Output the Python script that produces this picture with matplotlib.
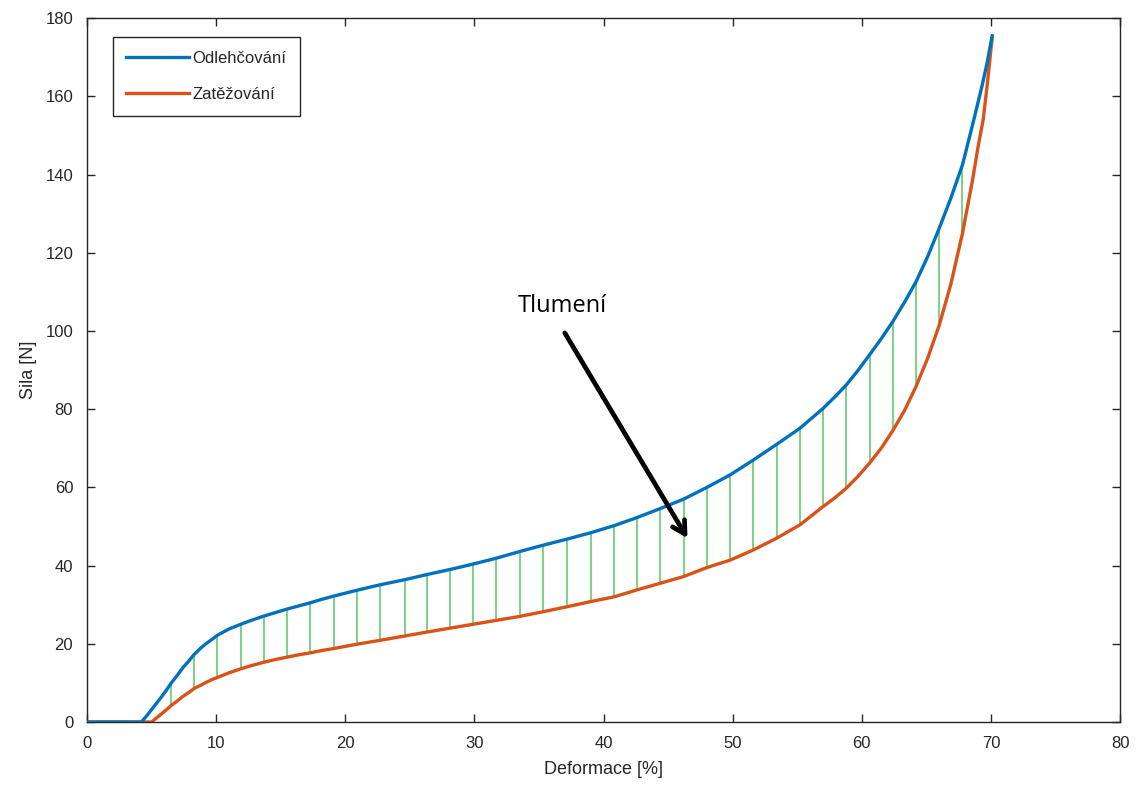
import matplotlib
matplotlib.use("Agg")
import matplotlib.pyplot as plt

# common x grid where the green "damping" lines are drawn
grid_x = [6.5, 8.3, 10.1, 11.9, 13.7, 15.5, 17.3, 19.1, 20.9, 22.7, 24.6, 26.3,
          28.1, 29.9, 31.7, 33.5, 35.3, 37.2, 39.0, 40.8, 42.6, 44.4, 46.2, 48.0,
          49.8, 51.6, 53.4, 55.2, 57.0, 58.8, 60.6, 62.4, 64.2, 66.0, 67.8]
grid_blue = [9.9, 17.3, 22.2, 25.0, 27.1, 28.9, 30.5, 32.2, 33.7, 35.1, 36.4, 37.7,
             39.0, 40.4, 41.9, 43.6, 45.2, 46.8, 48.4, 50.2, 52.3, 54.6, 57.0, 60.0,
             63.2, 67.0, 71.0, 75.1, 80.2, 86.2, 93.9, 102.4, 112.6, 126.3, 142.5]
grid_orange = [4.2, 8.6, 11.4, 13.6, 15.3, 16.6, 17.7, 18.8, 19.9, 20.9, 22.0, 23.0,
               24.0, 25.0, 26.0, 27.0, 28.2, 29.5, 30.8, 32.0, 33.8, 35.5, 37.2, 39.5,
               41.4, 44.0, 47.0, 50.4, 55.1, 59.8, 66.2, 74.5, 85.8, 101.5, 125.0]

# Odlehcovani (unloading) - extra points read between the grid
blue_extra_x = [0, 4.2, 4.6, 5.0, 5.4, 5.8, 6.2, 7.0, 7.4, 7.9, 8.8, 9.2, 9.7,
                11.0, 12.8, 14.6, 16.4, 18.2,
                57.9, 59.7, 61.5, 63.3, 65.1, 66.9, 68.6, 69.3, 69.7, 70.1]
blue_extra_y = [0, 0, 1.5, 3.2, 4.9, 6.6, 8.4, 12.0, 13.8, 15.7, 18.9, 20.0, 21.2,
                23.8, 26.1, 28.0, 29.7, 31.4,
                83.1, 89.9, 98.0, 107.3, 119.0, 134.0, 153.0, 162.5, 168.5, 175.5]

# Zatezovani (loading)
orange_extra_x = [0, 5.0, 5.4, 5.8, 6.2, 7.0, 7.4, 7.9, 8.8, 9.2, 9.7,
                  11.0, 12.8, 14.6, 16.4, 18.2,
                  57.9, 59.7, 61.5, 63.3, 65.1, 66.9, 68.6, 69.0, 69.4, 69.7, 70.1]
orange_extra_y = [0, 0, 1.1, 2.2, 3.3, 5.4, 6.5, 7.6, 9.4, 10.1, 10.9,
                  12.6, 14.5, 16.0, 17.2, 18.3,
                  57.3, 62.8, 70.0, 79.6, 93.0, 112.0, 139.0, 147.0, 154.0, 162.5, 175.0]

blue = sorted(zip(grid_x + blue_extra_x, grid_blue + blue_extra_y))
orange = sorted(zip(grid_x + orange_extra_x, grid_orange + orange_extra_y))

gray = "#262626"
plt.rcParams["font.family"] = ["Liberation Sans", "DejaVu Sans"]

fig = plt.figure(figsize=(11.38, 7.91), dpi=100)
ax = fig.add_axes([0.0765, 0.0872, 0.9077, 0.8898])

# damping lines between the curves
ax.vlines(grid_x, grid_orange, grid_blue, colors="#6fd07c", lw=1.3, zorder=1)

ax.plot([p[0] for p in blue], [p[1] for p in blue], color="#0072BD", lw=2.4,
        label="Odlehčování", zorder=3, solid_joinstyle="round")
ax.plot([p[0] for p in orange], [p[1] for p in orange], color="#D95319", lw=2.4,
        label="Zatěžování", zorder=2, solid_joinstyle="round")

ax.annotate("", xy=(46.5, 47.0), xytext=(37.0, 99.5),
            arrowprops=dict(arrowstyle="->,head_length=0.9,head_width=0.5",
                            color="black", lw=3.4, shrinkA=0, shrinkB=0))
ax.text(36.8, 106.5, "Tlumení", fontsize=17, ha="center", va="center",
        family=["Open Sans", "DejaVu Sans"], color="black")

ax.set_xlim(0, 80)
ax.set_ylim(0, 180)
ax.set_xticks(range(0, 81, 10))
ax.set_yticks(range(0, 181, 20))
ax.tick_params(direction="in", top=True, right=True, length=6, width=1,
               colors=gray, labelsize=12, pad=10)
for s in ax.spines.values():
    s.set_color(gray)
    s.set_linewidth(1)

ax.set_xlabel("Deformace [%]", fontsize=13, color=gray, labelpad=7)
ax.set_ylabel("Sila [N]", fontsize=13, color=gray, labelpad=6)

leg = ax.legend(loc="upper left", bbox_to_anchor=(0.02, 0.98), fontsize=12,
                handlelength=3.8, handletextpad=0.2, borderpad=0.8,
                labelspacing=1.3, borderaxespad=0.3, fancybox=False, framealpha=1)
leg.get_frame().set_edgecolor(gray)
leg.get_frame().set_linewidth(1)
for t in leg.get_texts():
    t.set_color(gray)

fig.savefig("out.png", dpi=100)
